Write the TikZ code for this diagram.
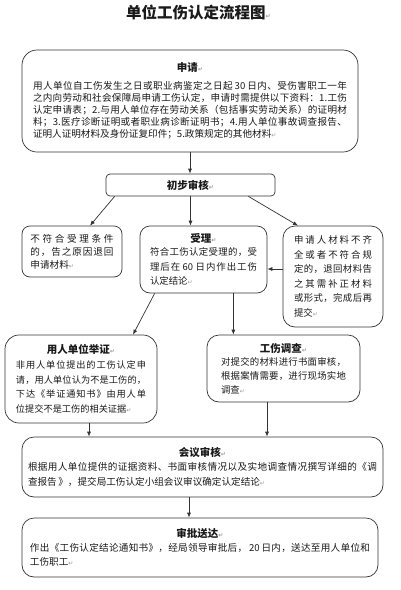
\documentclass[tikz,border=0pt]{standalone}
\usepackage{fontspec}
\setmainfont{Noto Sans CJK SC}
\newfontfamily\dvfont{DejaVu Sans}
\usetikzlibrary{arrows.meta}
\definecolor{ink}{HTML}{1A1A1A}
\definecolor{edge}{HTML}{333333}
\definecolor{markgray}{HTML}{9A9A9A}
\newcommand\pmark{{\dvfont\fontsize{6}{6}\selectfont\textcolor{markgray}{↵}}}
\newcommand\ttl{\fontsize{10.5}{12}\selectfont\bfseries}
\makeatletter
\let\spr@end\relax
\def\spr@endm{\spr@end}
\def\spr@x#1{\def\spr@t{#1}\ifx\spr@t\spr@endm\else#1\expandafter\spr@y\fi}
\def\spr@y#1{\def\spr@t{#1}\ifx\spr@t\spr@endm\else\hfil#1\expandafter\spr@y\fi}
\newcommand\spr[2]{\makebox[#1][s]{\spr@x#2\spr@end}}
\makeatother
\begin{document}
\begin{tikzpicture}[x=1pt,y=-1pt,
  box/.style={draw=edge, line width=0.7pt, text=ink, inner sep=0pt, align=left},
  arr/.style={draw=edge, line width=0.7pt, -{Latex[length=5pt,width=4pt]}}]
\useasboundingbox[fill=white] (0,0) rectangle (400,590);

\node[anchor=west, text=ink, font=\fontsize{15.5}{16}\selectfont\bfseries, inner sep=0pt] (T) at (126,13) {单位工伤认定流程图\pmark};

\node[box, minimum width=336pt, minimum height=102pt, rounded corners=15pt, text width=314pt, font=\fontsize{9.6}{12.2}\selectfont] (A) at (190,101) {\makebox[314pt]{\ttl 申请\pmark}\\[5.5pt]
\spr{314pt}{用人单位自工伤发生之日或职业病鉴定之日起{\,30\,}日内、受伤害职工一年}\\
\spr{314pt}{之内向劳动和社会保障局申请工伤认定，申请时需提供以下资料：{1.}工伤}\\
\spr{314pt}{认定申请表；{2.}与用人单位存在劳动关系（包括事实劳动关系）的证明材}\\
\spr{314pt}{料；{3.}医疗诊断证明或者职业病诊断证明书；{4.}用人单位事故调查报告、}\\
证明人证明材料及身份证复印件；5.政策规定的其他材料\pmark};

\node[box, minimum width=169pt, minimum height=22pt, rounded corners=4pt, font=\fontsize{10.5}{12}\selectfont\bfseries] (B) at (190.5,185) {初步审核\pmark};

\node[box, minimum width=100pt, minimum height=51pt, rounded corners=8pt, text width=83pt, font=\fontsize{9.6}{13}\selectfont] (C) at (72,251.5) {\spr{83pt}{不符合受理条件}\\
\spr{83pt}{的，告之原因退回}\\
申请材料\pmark};

\node[box, minimum width=127pt, minimum height=67pt, rounded corners=10pt, text width=107pt, font=\fontsize{9.4}{14.5}\selectfont] (D) at (203.5,259.5) {\makebox[107pt]{\ttl 受理\pmark}\\[-1.5pt]
\spr{107pt}{符合工伤认定受理的，受}\\
\spr{107pt}{理后在{\,60\,}日内作出工伤}\\
认定结论\pmark};

\node[box, minimum width=100pt, minimum height=101pt, rounded corners=12pt, text width=78pt, font=\fontsize{9.4}{14.6}\selectfont] (E) at (333,276.5) {\spr{78pt}{申请人材料不齐}\\
\spr{78pt}{全或者不符合规}\\
\spr{78pt}{定的，退回材料告}\\
\spr{78pt}{之其需补正材料}\\
\spr{78pt}{或形式，完成后再}\\
提交\pmark};

\node[box, minimum width=152pt, minimum height=88pt, rounded corners=14pt, text width=130pt, font=\fontsize{9.2}{14.7}\selectfont] (F) at (81,379) {\makebox[130pt]{\ttl 用人单位举证\pmark}\\
\spr{130pt}{非用人单位提出的工伤认定申}\\
\spr{130pt}{请，用人单位认为不是工伤的，}\\
\spr{130pt}{下达《举证通知书》由用人单}\\
位提交不是工伤的相关证据\pmark};

\node[box, minimum width=153pt, minimum height=67pt, rounded corners=12pt, text width=125pt, font=\fontsize{9.4}{13.7}\selectfont] (G) at (283.5,368.5) {\makebox[125pt]{\ttl 工伤调查\pmark}\\
\spr{125pt}{对提交的材料进行书面审核，}\\
\spr{125pt}{根据案情需要，进行现场实地}\\
调查\pmark};

\node[box, minimum width=361pt, minimum height=60pt, rounded corners=12pt, text width=349pt, font=\fontsize{9.6}{15}\selectfont] (H) at (202.5,467) {\makebox[349pt]{\ttl 会议审核\pmark}\\[-1pt]
\spr{349pt}{根据用人单位提供的证据资料、书面审核情况以及实地调查情况撰写详细的《调}\\
查报告\,》，提交局工伤认定小组会议审议确定认定结论\pmark};

\node[box, minimum width=356pt, minimum height=59pt, rounded corners=12pt, text width=340pt, font=\fontsize{9.6}{14}\selectfont] (I) at (200,547.5) {\makebox[340pt]{\ttl 审批送达\pmark}\\
\spr{340pt}{作出《工伤认定结论通知书》，经局领导审批后，{\,20\,}日内，送达至用人单位和}\\
工伤职工\pmark};

% connectors
\draw[arr] (A.south) -- (A.south |- B.north);
\draw[arr] ([xshift=9pt]B.south west) -- ([xshift=18pt]C.north);
\draw[arr] (B.south) -- (B.south |- D.north);
\draw[arr] ([xshift=-27pt]B.south east) -- ([xshift=-35pt]E.north);
\coordinate (e1) at ([yshift=7.5pt]E.west);
\draw[arr] (e1) -- (e1 -| D.east);
\draw[arr] ([xshift=15pt]D.south west) -- ([xshift=52pt]F.north);
\coordinate (d2) at ([xshift=-34pt]D.south east);
\draw[arr] (d2) -- (d2 |- G.north);
\coordinate (f1) at ([xshift=8pt]F.south);
\draw[arr] (f1) -- (f1 |- H.north);
\coordinate (g1) at ([xshift=-16.5pt]G.south);
\draw[arr] (g1) -- (g1 |- H.north);
\coordinate (h1) at ([xshift=-13.5pt]H.south);
\draw[arr] (h1) -- (h1 |- I.north);
\end{tikzpicture}
\end{document}
